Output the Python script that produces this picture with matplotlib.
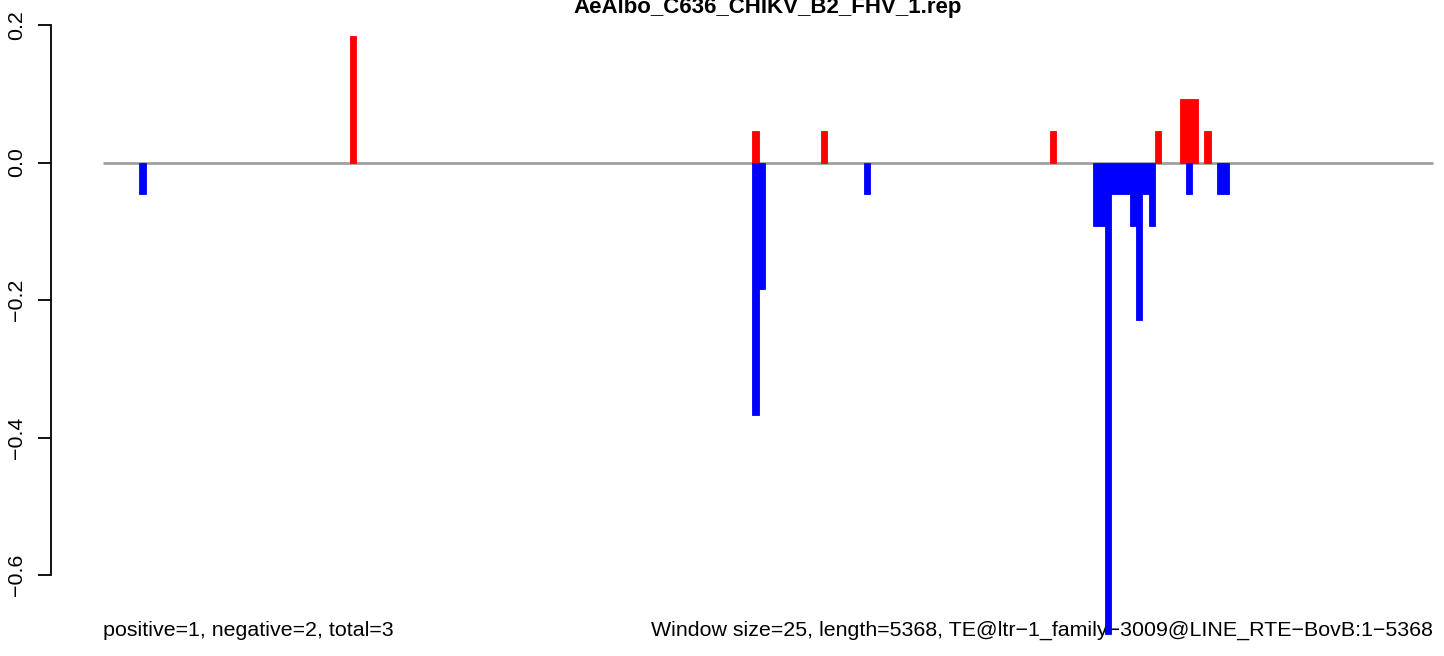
import matplotlib
matplotlib.use("Agg")
import matplotlib.pyplot as plt

plt.rcParams['font.family'] = ['Liberation Sans', 'DejaVu Sans']

title = "AeAlbo_C636_CHIKV_B2_FHV_1.rep"
left_note = "positive=1, negative=2, total=3"
right_note = "Window size=25, length=5368, TE@ltr\u22121_family\u22123009@LINE_RTE\u2212BovB:1\u22125368"

window = 25
length = 5368

# window index -> value
pos_windows = [40, 105, 116, 153, 170, 174, 175, 176, 178]
pos_values = [0.184, 0.046, 0.046, 0.046, 0.046, 0.092, 0.092, 0.092, 0.046]
neg_windows = [6, 105, 106, 123, 160, 161, 162, 163, 164, 165, 166, 167, 168, 169, 175, 180, 181]
neg_values = [-0.046, -0.367, -0.184, -0.046, -0.092, -0.092, -0.686, -0.046, -0.046,
              -0.046, -0.092, -0.229, -0.046, -0.092, -0.046, -0.046, -0.046]

yticks = [0.2, 0.0, -0.2, -0.4, -0.6]

# pixel layout of the original picture
W, H = 1444, 656
x0_px, x1_px = 103.3, 1432.7
y0_px, ppu = 162.5, 687.5
sx = (x1_px - x0_px) / length

fig = plt.figure(figsize=(W / 100, H / 100), dpi=100)
ax = fig.add_axes([0, 0, 1, 1])
ax.set_xlim(-x0_px / sx, (W - x0_px) / sx)
ax.set_ylim(-(H - y0_px) / ppu, y0_px / ppu)

ax.text(0, (y0_px - 636) / ppu, left_note, ha='left', va='baseline', fontsize=15.4, zorder=1)
ax.text(length, (y0_px - 636) / ppu, right_note, ha='right', va='baseline', fontsize=15.4, zorder=1)
ax.text(length / 2, (y0_px - 13) / ppu, title, ha='center', va='baseline',
        fontsize=16, fontweight='bold', zorder=1)

ax.plot([0, length], [0, 0], color='#a0a0a0', lw=2, zorder=2, solid_capstyle='butt')

# bars start a few bp before the window start, as in the original
ax.bar([w * window - 4 for w in pos_windows], pos_values, width=window, align='edge',
       color='#ff0000', edgecolor='#ff0000', linewidth=0.6, zorder=3)
ax.bar([w * window - 4 for w in neg_windows], neg_values, width=window, align='edge',
       color='#0000ff', edgecolor='#0000ff', linewidth=0.6, zorder=3)

for s in ['top', 'right', 'bottom']:
    ax.spines[s].set_visible(False)
ax.spines['left'].set_position(('data', (50.7 - x0_px) / sx))
ax.spines['left'].set_bounds(-0.6, 0.2)
ax.spines['left'].set_linewidth(1.3)
ax.set_xticks([])
ax.set_yticks(yticks)
ax.set_yticklabels([f"{t:.1f}".replace('-', '\u2212') for t in yticks],
                   rotation=90, va='center', fontsize=15.4)
ax.tick_params(axis='y', length=9.7, width=1.3, pad=8)

fig.savefig("out.png", dpi=100)
